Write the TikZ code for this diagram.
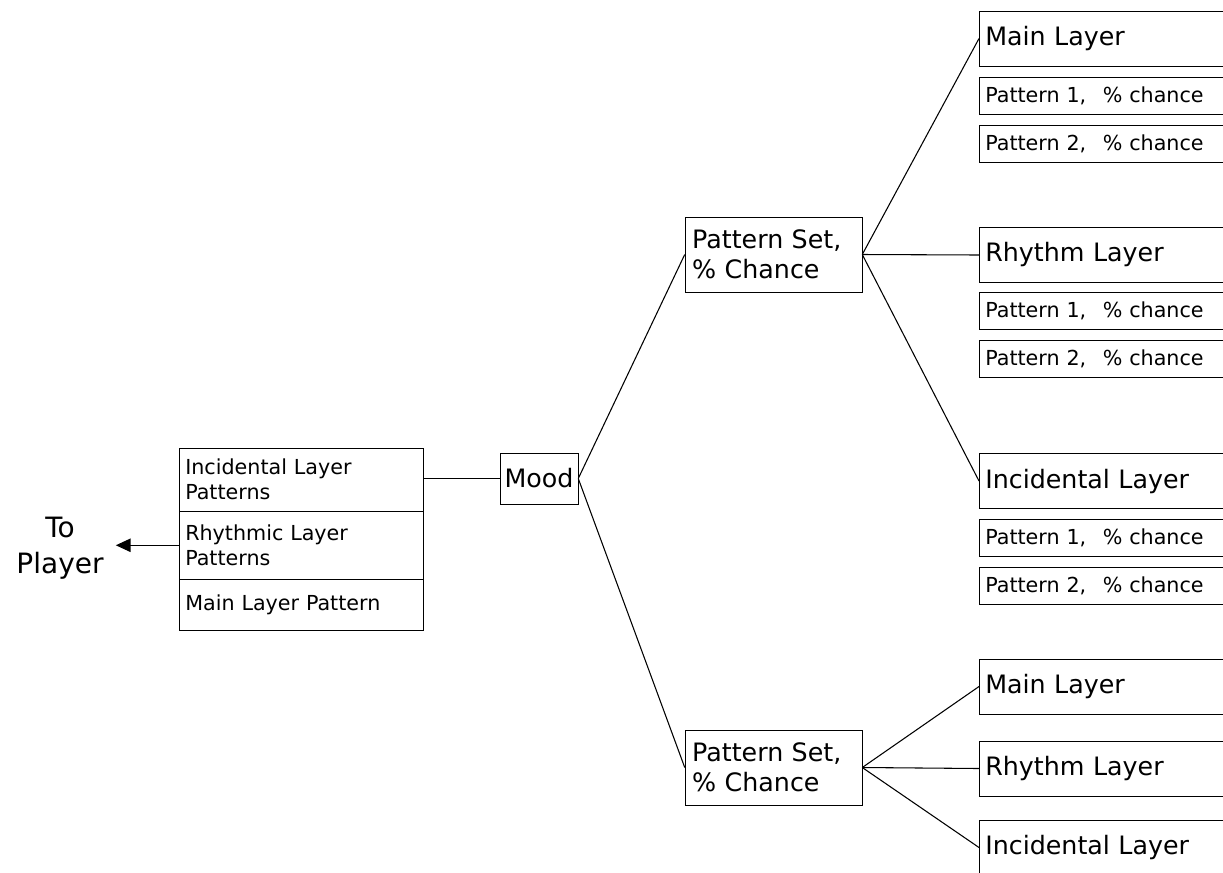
\documentclass[tikz,border=0pt]{standalone}
\usepackage{fontspec}
\setmainfont{DejaVu Sans}
\usetikzlibrary{arrows.meta, positioning}

\begin{document}
\begin{tikzpicture}[
  x=0.75pt, y=-0.75pt,
  bigtext/.style={font=\fontsize{19}{22.5}\selectfont},
  smalltext/.style={font=\fontsize{15.5}{18.75}\selectfont},
  layerbox/.style={draw, bigtext, anchor=west, minimum height=41.25pt,
                   text width=230pt, align=left, inner xsep=4.5pt},
  patbox/.style={draw, smalltext, anchor=west, minimum height=27.75pt,
                 text width=230pt, align=left, inner xsep=4.5pt},
  setbox/.style={draw, bigtext, minimum width=132.75pt, minimum height=56.25pt,
                 text width=122pt, align=left, inner xsep=5pt},
  cellbox/.style={draw, smalltext, anchor=north west, text width=174pt,
                  align=left, inner xsep=4.5pt},
  wire/.style={line width=0.8pt},
  arr/.style={-{Triangle[length=11pt, width=10pt]}, line width=0.8pt}
]
  \useasboundingbox (0,0) rectangle (1223,872);

  \node[cellbox, minimum height=47.25pt] (inc) at (179,448) {Incidental Layer\\Patterns};
  \node[cellbox, minimum height=51pt] (rhy) at (179,511) {Rhythmic Layer\\Patterns};
  \node[cellbox, minimum height=38.25pt] (mainpat) at (179,579) {Main Layer Pattern};
  \node[font=\fontsize{21}{27}\selectfont, align=center, inner xsep=9pt] (player) at (60,548) {To\\Player};

  \node[draw, bigtext, minimum width=58.5pt, minimum height=38.25pt, inner sep=2pt] (mood) at (539,478.5) {Mood};

  \node[setbox] (set1) at (773.5,254.5) {Pattern Set,\\\% Chance};
  \node[setbox] (set2) at (773.5,767.5) {Pattern Set,\\\% Chance};

  \node[layerbox] (main1) at (979,38.5) {Main Layer};
  \node[patbox] (main1a) at (979,96) {Pattern 1,\hspace{0.8em}\% chance};
  \node[patbox] (main1b) at (979,144) {Pattern 2,\hspace{0.8em}\% chance};
  \node[layerbox] (rhy1) at (979,255) {Rhythm Layer};
  \node[patbox] (rhy1a) at (979,311) {Pattern 1,\hspace{0.8em}\% chance};
  \node[patbox] (rhy1b) at (979,359) {Pattern 2,\hspace{0.8em}\% chance};
  \node[layerbox] (inc1) at (979,481) {Incidental Layer};
  \node[patbox] (inc1a) at (979,538) {Pattern 1,\hspace{0.8em}\% chance};
  \node[patbox] (inc1b) at (979,586) {Pattern 2,\hspace{0.8em}\% chance};

  \node[layerbox] (main2) at (979,686.5) {Main Layer};
  \node[layerbox] (rhy2) at (979,768.5) {Rhythm Layer};
  \node[layerbox] (inc2) at (979,847.5) {Incidental Layer};

  \draw[arr] (rhy.west) -- (rhy.west -| player.east);
  \draw[wire] (mood.west -| inc.east) -- (mood.west);
  \draw[wire] (mood.east) -- (set1.west);
  \draw[wire] (mood.east) -- (set2.west);
  \draw[wire] (set1.east) -- (main1.west);
  \draw[wire] (set1.east) -- (rhy1.west);
  \draw[wire] (set1.east) -- (inc1.west);
  \draw[wire] (set2.east) -- (main2.west);
  \draw[wire] (set2.east) -- (rhy2.west);
  \draw[wire] (set2.east) -- (inc2.west);
\end{tikzpicture}
\end{document}
